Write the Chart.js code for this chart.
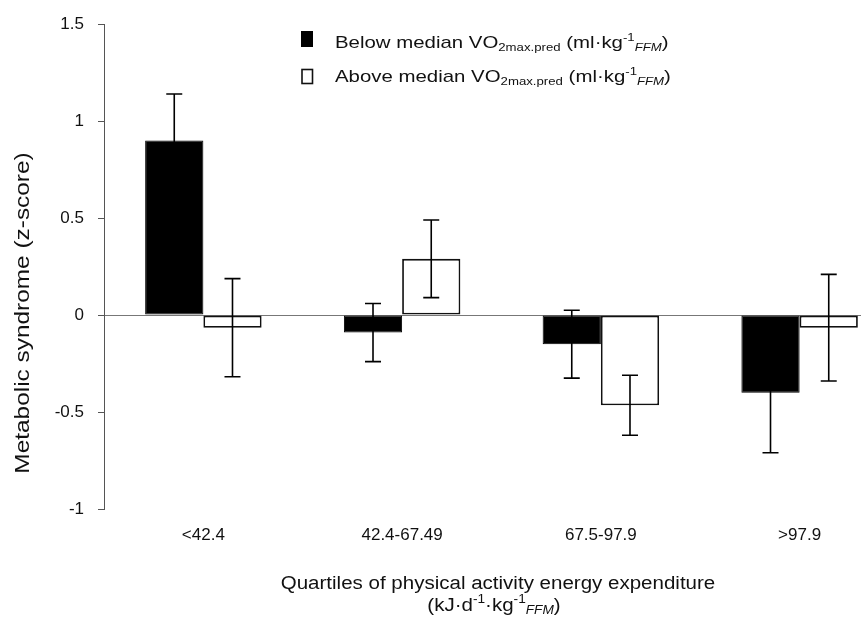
<!DOCTYPE html>
<html>
<head>
<meta charset="utf-8">
<title>Metabolic syndrome by physical activity quartile</title>
<script src="https://cdn.jsdelivr.net/npm/chart.js@4/dist/chart.umd.min.js"></script>
<style>
  html, body { margin: 0; padding: 0; background: #fff; overflow: hidden; }
  canvas { display: block; }
</style>
</head>
<body>
<canvas id="c" width="899" height="625"></canvas>
<script>
// Quartiles of physical activity energy expenditure
const categories = ['<42.4', '42.4-67.49', '67.5-97.9', '>97.9'];

// Metabolic syndrome z-score, mean and error, split by predicted VO2max
const belowMedian = [0.90, -0.09, -0.15, -0.40];
const belowMedianErr = [0.24, 0.15, 0.175, 0.31];
const aboveMedian = [-0.065, 0.29, -0.465, -0.065];
const aboveMedianErr = [0.253, 0.20, 0.155, 0.275];

const yTicks = [-1, -0.5, 0, 0.5, 1, 1.5];

const FONT = '"Liberation Sans", Arial, Helvetica, sans-serif';
const INK = '#111';

// Draws a run of text pieces (normal, superscript, subscript) with a slight horizontal stretch
function partFont(p, size) {
  const s = p.k === 'n' ? size : Math.round(size * 0.66);
  return (p.i ? 'italic ' : '') + s + 'px ' + FONT;
}
function richWidth(ctx, parts, size) {
  let w = 0;
  for (const p of parts) {
    ctx.font = partFont(p, size);
    w += ctx.measureText(p.t).width;
  }
  return w;
}
function drawRich(ctx, parts, x, y, size, sx, align) {
  ctx.save();
  ctx.translate(x, y);
  ctx.scale(sx, 1);
  const total = richWidth(ctx, parts, size);
  let cx = align === 'center' ? -total / 2 : 0;
  ctx.fillStyle = INK;
  ctx.textBaseline = 'alphabetic';
  ctx.textAlign = 'left';
  for (const p of parts) {
    ctx.font = partFont(p, size);
    let dy = 0;
    if (p.k === 'sup') dy = -size * 0.42;
    if (p.k === 'sub') dy = size * 0.18;
    ctx.fillText(p.t, cx, dy);
    cx += ctx.measureText(p.t).width;
  }
  ctx.restore();
}

const legendBelow = [
  { t: 'Below median VO', k: 'n' }, { t: '2max.pred', k: 'sub' },
  { t: ' (ml\u00b7kg', k: 'n' }, { t: '-1', k: 'sup' }, { t: 'FFM', k: 'sub', i: true }, { t: ')', k: 'n' }
];
const legendAbove = [
  { t: 'Above median VO', k: 'n' }, { t: '2max.pred', k: 'sub' },
  { t: ' (ml\u00b7kg', k: 'n' }, { t: '-1', k: 'sup' }, { t: 'FFM', k: 'sub', i: true }, { t: ')', k: 'n' }
];
const xTitle1 = [{ t: 'Quartiles of physical activity energy expenditure', k: 'n' }];
const xTitle2 = [
  { t: '(kJ\u00b7d', k: 'n' }, { t: '-1', k: 'sup' }, { t: '\u00b7kg', k: 'n' },
  { t: '-1', k: 'sup' }, { t: 'FFM', k: 'sub', i: true }, { t: ')', k: 'n' }
];
const yTitle = [{ t: 'Metabolic syndrome (z-score)', k: 'n' }];

// Error bars on top of each bar (black, so they vanish inside the filled bars)
const errorBars = {
  id: 'errorBars',
  afterDatasetsDraw(chart) {
    const ctx = chart.ctx;
    const y = chart.scales.y;
    const errs = [belowMedianErr, aboveMedianErr];
    ctx.save();
    ctx.strokeStyle = '#000';
    ctx.lineWidth = 1.6;
    chart.data.datasets.forEach((ds, i) => {
      const meta = chart.getDatasetMeta(i);
      meta.data.forEach((bar, j) => {
        const v = ds.data[j], e = errs[i][j];
        const x = bar.x;
        const top = y.getPixelForValue(v + e);
        const bot = y.getPixelForValue(v - e);
        ctx.beginPath();
        ctx.moveTo(x, top); ctx.lineTo(x, bot);
        ctx.moveTo(x - 8, top); ctx.lineTo(x + 8, top);
        ctx.moveTo(x - 8, bot); ctx.lineTo(x + 8, bot);
        ctx.stroke();
      });
    });
    ctx.restore();
  }
};

// Legend, axis titles
const annotations = {
  id: 'annotations',
  afterDraw(chart) {
    const ctx = chart.ctx;
    ctx.save();
    // legend keys
    ctx.fillStyle = '#000';
    ctx.fillRect(301, 31, 12, 16);
    ctx.strokeStyle = '#111';
    ctx.lineWidth = 1.6;
    ctx.strokeRect(302, 69.5, 10.5, 14);
    drawRich(ctx, legendBelow, 335, 48, 17, 1.2, 'left');
    drawRich(ctx, legendAbove, 335, 82, 17, 1.2, 'left');
    // x axis title
    drawRich(ctx, xTitle1, 498, 589, 18, 1.14, 'center');
    drawRich(ctx, xTitle2, 494, 611, 18, 1.14, 'center');
    // y axis title
    ctx.translate(29, 313);
    ctx.rotate(-Math.PI / 2);
    drawRich(ctx, yTitle, 0, 0, 20, 1.22, 'center');
    ctx.restore();
  }
};

new Chart(document.getElementById('c'), {
  type: 'bar',
  data: {
    labels: categories,
    datasets: [
      {
        label: 'Below median VO2max.pred',
        data: belowMedian,
        backgroundColor: '#000',
        borderColor: '#000',
        borderWidth: 1,
        borderSkipped: false
      },
      {
        label: 'Above median VO2max.pred',
        data: aboveMedian,
        backgroundColor: '#fff',
        borderColor: '#111',
        borderWidth: 1.8,
        borderSkipped: false
      }
    ]
  },
  options: {
    responsive: false,
    devicePixelRatio: 1,
    animation: false,
    layout: { padding: { top: 20, left: 0, right: 0, bottom: 0 } },
    datasets: { bar: { categoryPercentage: 0.586, barPercentage: 1.0 } },
    plugins: { legend: { display: false }, tooltip: { enabled: false } },
    scales: {
      x: {
        type: 'category',
        offset: true,
        grid: { display: false, drawTicks: false },
        border: { display: false },
        ticks: { color: INK, font: { family: FONT, size: 17 }, padding: 16, maxRotation: 0, autoSkip: false },
        afterFit(scale) { scale.height = 116; }
      },
      y: {
        min: -1,
        max: 1.5,
        afterBuildTicks(scale) { scale.ticks = yTicks.map(v => ({ value: v })); },
        ticks: {
          color: INK,
          font: { family: FONT, size: 17 },
          padding: 14,
          callback: v => String(v)
        },
        grid: {
          drawOnChartArea: true,
          color: ctx => (ctx.tick && ctx.tick.value === 0 ? '#777' : 'rgba(0,0,0,0)'),
          tickColor: '#555',
          tickLength: 6,
          lineWidth: 1
        },
        border: { display: true, color: '#555', width: 1 },
        afterFit(scale) { scale.width = 104; }
      }
    }
  },
  plugins: [errorBars, annotations]
});
</script>
</body>
</html>
